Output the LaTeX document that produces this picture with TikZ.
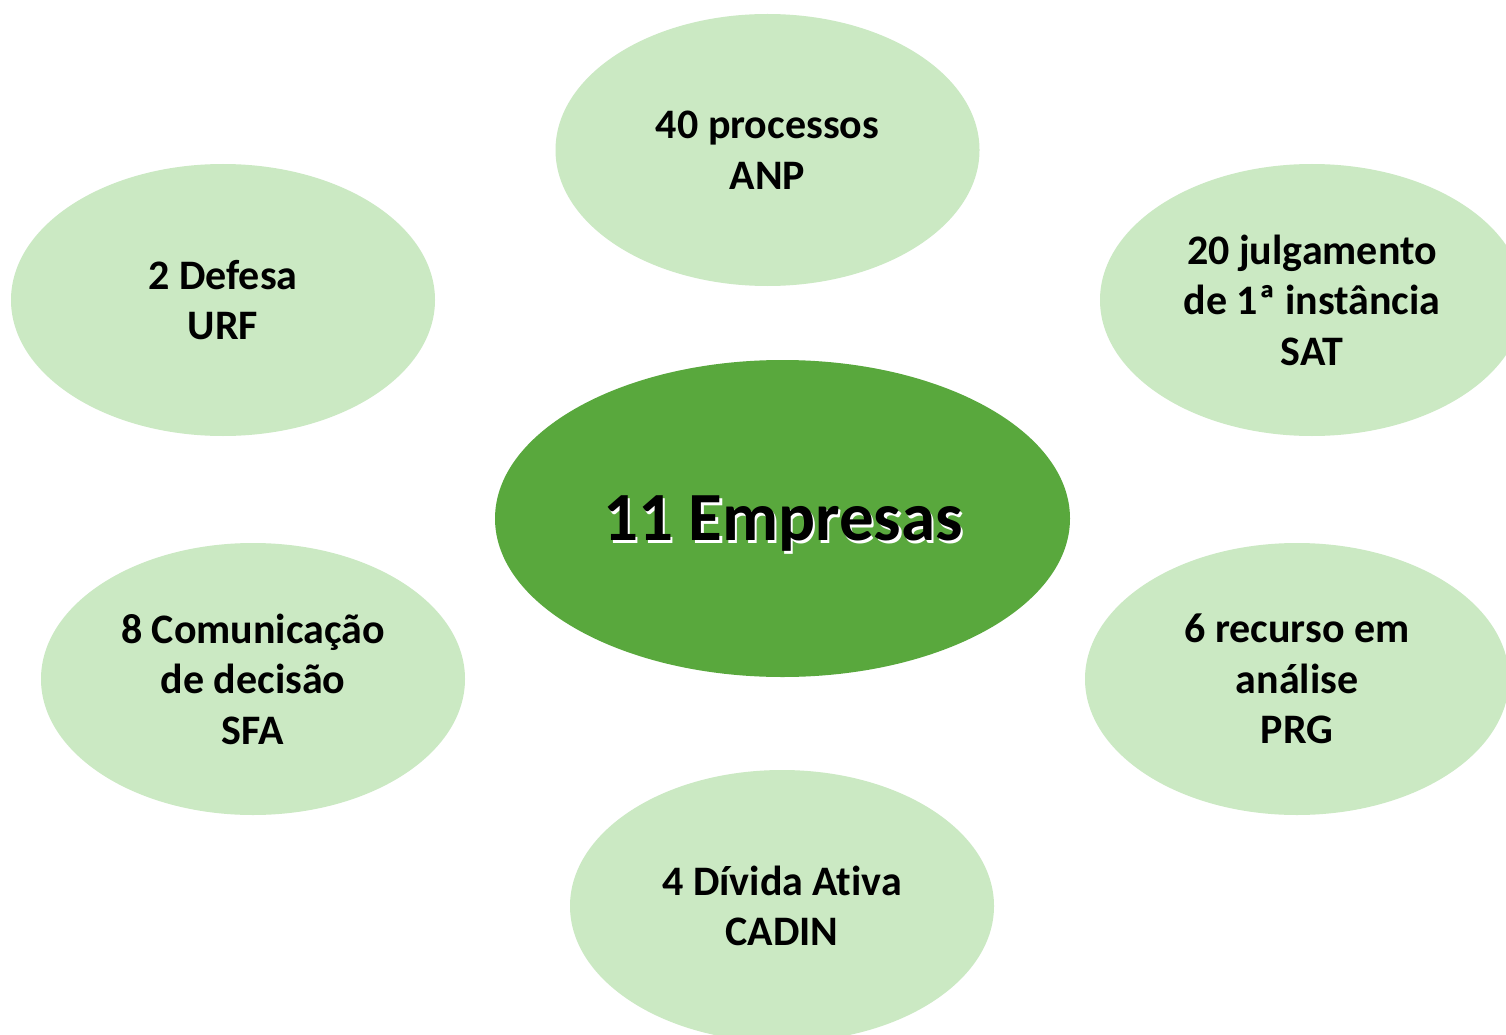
\documentclass[tikz,border=0pt]{standalone}
\usepackage{fontspec}
\setmainfont{Carlito}[Ligatures=CommonOff]
\usetikzlibrary{shapes.geometric}
\definecolor{lightg}{HTML}{CBE9C3}
\definecolor{darkg}{HTML}{59A83D}
\tikzset{
  bubble/.style={ellipse, fill=lightg, inner sep=0pt, minimum width=424pt, minimum height=272pt,
    align=center, font=\fontsize{42}{50.5}\selectfont\bfseries, text=black},
  hub/.style={ellipse, fill=darkg, inner sep=0pt, minimum width=575pt, minimum height=317pt},
  hubtext/.style={font=\fontsize{69}{80}\selectfont\bfseries, inner sep=0pt}
}
\begin{document}
\begin{tikzpicture}[x=1pt,y=-1pt]
\useasboundingbox (0,0) rectangle (1506,1035);
\clip (0,0) rectangle (1506,1035);
\fill[white] (0,0) rectangle (1506,1035);
\node[bubble] (anp) at (767.5,150) {40 processos\\ANP};
\node[bubble] (urf) at (223,300) {2 Defesa\\URF};
\node[bubble] (sat) at (1312,300) {20 julgamento\\de 1ª instância\\SAT};
\node[bubble] (sfa) at (253,679) {8 Comunicação\\de decisão\\SFA};
\node[bubble] (prg) at (1297,679) {6 recurso em\\análise\\PRG};
\node[bubble] (cadin) at (782,906) {4 Dívida Ativa\\CADIN};
\node[hub] (hub) at (782.5,518.5) {};
\node[hubtext, text=white] (hubshadow) at ([shift={(3pt,-8pt)}]hub.center) {11 Empresas};
\node[hubtext, text=black] (hublabel) at ([shift={(0.5pt,-5.5pt)}]hub.center) {11 Empresas};
\end{tikzpicture}
\end{document}
